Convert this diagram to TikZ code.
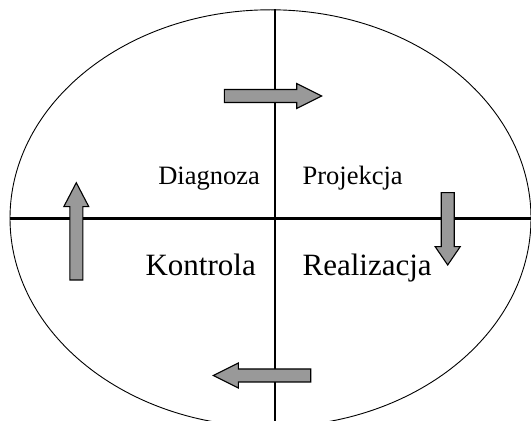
\documentclass[tikz,border=0pt]{standalone}
\usepackage{fontspec}
\setmainfont{Liberation Serif}
\usetikzlibrary{shapes.geometric}
\definecolor{ink}{HTML}{000000}
\definecolor{shade}{HTML}{999999}

\begin{document}
\begin{tikzpicture}[
  x=1pt,
  y=1pt,
  line join=miter,
  every node/.style={
    inner sep=0pt,
    text=ink,
  },
  ring/.style={
    ellipse,
    draw=ink,
    line width=0.9pt,
    minimum width=521pt,
    minimum height=417pt,
  },
  axis/.style={
    draw=ink,
  },
  phase/.style={
    font=\fontsize{26.5}{30}\selectfont,
  },
  bigphase/.style={
    font=\fontsize{31}{36}\selectfont,
  },
  arrowbody/.style={
    draw=ink,
    fill=shade,
    line width=1.1pt,
  },
  pics/blockarr/.style 2 args={code={
    \path[arrowbody] (0,-6.5) -- (#1-#2,-6.5) -- (#1-#2,-12.5) -- (#1,0)
      -- (#1-#2,12.5) -- (#1-#2,6.5) -- (0,6.5) -- cycle;
  }},
]
\useasboundingbox (0,0) rectangle (531,421);

% --- circle and axes ---
\node[ring] (ring) at (270.5,202.7) {};
\coordinate (vx) at (275,202.7);
\draw[axis, line width=2.6pt] (ring.west) -- (ring.east);
\draw[axis, line width=1.8pt] (ring.north -| vx) -- (ring.south -| vx);

% --- phase labels ---
\node[phase, anchor=base east] (diag) at (260,236.7) {Diagnoza};
\node[phase, anchor=base west] (proj) at (302.4,236.7) {Projekcja};
\node[bigphase, anchor=base east] (kont) at (256,145) {Kontrola};
\node[bigphase, anchor=base west] (real) at (302.4,145) {Realizacja};

% --- cycle arrows ---
\pic (toright) at (224.3,325) {blockarr={97.4}{25}};
\pic[rotate=-90] (todown) at (447.7,228.3) {blockarr={72.3}{18.3}};
\pic[rotate=180] (toleft) at (310.7,45.5) {blockarr={97.4}{25}};
\pic[rotate=90] (toup) at (76.3,141) {blockarr={97.3}{24}};

\end{tikzpicture}
\end{document}
